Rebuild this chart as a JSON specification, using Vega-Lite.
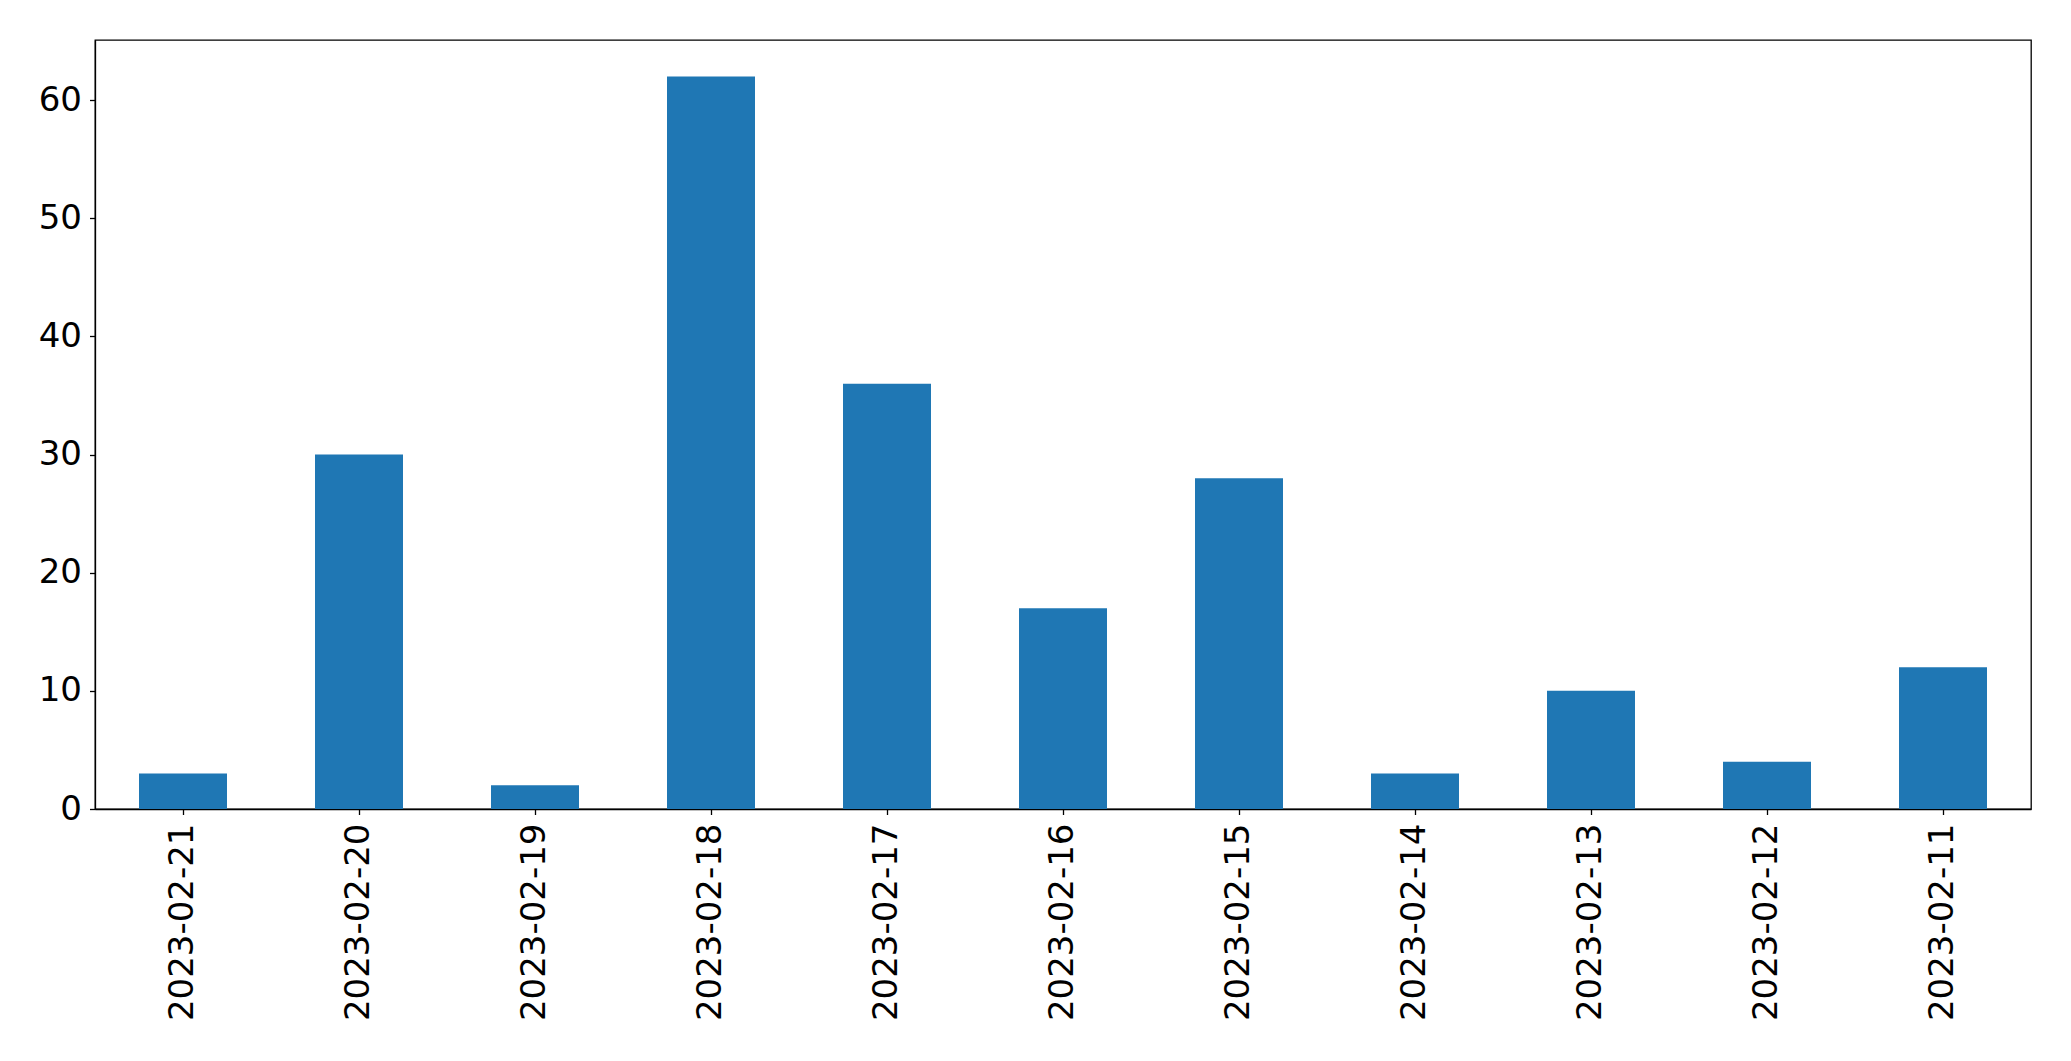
{
  "$schema": "https://vega.github.io/schema/vega-lite/v6.json",
  "autosize": {"type": "none"},
  "padding": {"left": 95, "top": 40, "right": 40, "bottom": 252},
  "width": 1936,
  "height": 769,
  "background": "white",
  "data": {
    "values": [
      {"date": "2023-02-21", "count": 3},
      {"date": "2023-02-20", "count": 30},
      {"date": "2023-02-19", "count": 2},
      {"date": "2023-02-18", "count": 62},
      {"date": "2023-02-17", "count": 36},
      {"date": "2023-02-16", "count": 17},
      {"date": "2023-02-15", "count": 28},
      {"date": "2023-02-14", "count": 3},
      {"date": "2023-02-13", "count": 10},
      {"date": "2023-02-12", "count": 4},
      {"date": "2023-02-11", "count": 12}
    ]
  },
  "mark": {"type": "bar", "color": "#1f77b4"},
  "encoding": {
    "x": {
      "field": "date",
      "type": "nominal",
      "sort": null,
      "scale": {"paddingInner": 0.5, "paddingOuter": 0.25},
      "axis": {"title": null, "labelAngle": -90, "labelAlign": "right", "labelBaseline": "middle", "labelPadding": 8.5, "labelLimit": 0}
    },
    "y": {
      "field": "count",
      "type": "quantitative",
      "scale": {"domain": [0, 65.1], "nice": false, "zero": true},
      "axis": {"title": null, "values": [0, 10, 20, 30, 40, 50, 60], "labelPadding": 8}
    }
  },
  "config": {
    "view": {"stroke": "black", "strokeWidth": 1.3},
    "axis": {
      "grid": false,
      "labelFont": "DejaVu Sans",
      "labelFontSize": 34,
      "labelColor": "black",
      "tickColor": "black",
      "tickSize": 5.5,
      "tickWidth": 1.3,
      "domainColor": "black",
      "domainWidth": 1.3,
      "labelOverlap": false,
      "labelLimit": 0
    }
  }
}
